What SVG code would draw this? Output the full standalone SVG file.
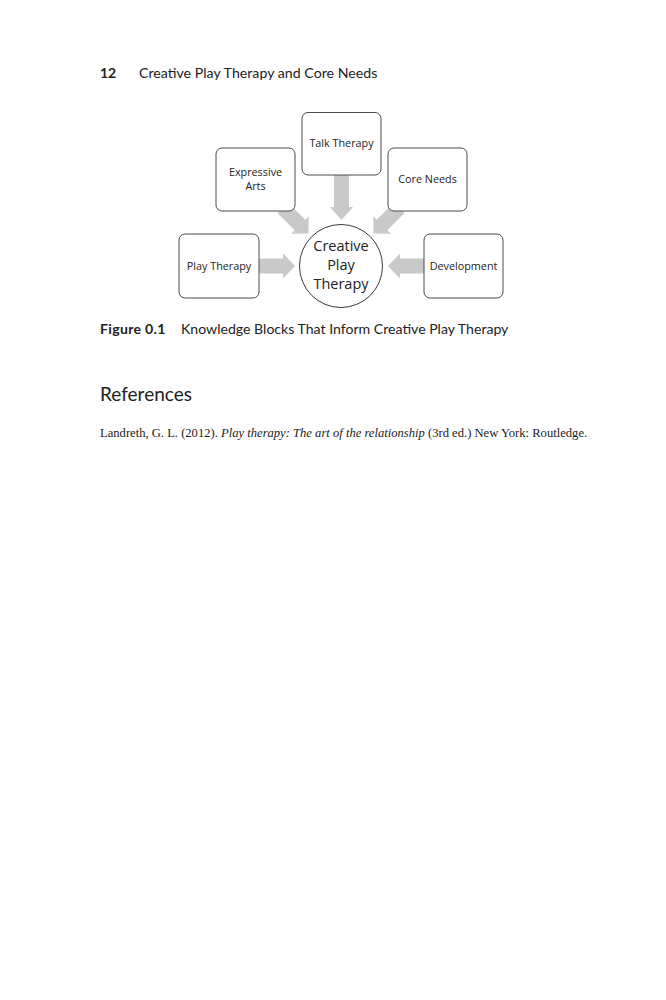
<svg xmlns="http://www.w3.org/2000/svg" width="666" height="1000" viewBox="0 0 666 1000">
<style>
.box{fill:#fff;stroke:#4a4a4a;stroke-width:1}
.arr{fill:#c9c9c9}
.bt{font-family:"Open Sans","Liberation Sans",sans-serif;font-size:10.8px;fill:#222;text-anchor:middle}
.ct{font-family:"Open Sans","Liberation Sans",sans-serif;font-size:14.5px;fill:#222;text-anchor:middle}
.hd{font-family:"Lato","Noto Sans",sans-serif;fill:#222}
.ref{font-family:"Liberation Serif",serif;font-size:12.6px;fill:#222}
</style>
<defs>
<path id="a36" d="M0,-7.5 H24 V-12.5 L36,0 L24,12.5 V7.5 H0 Z"/>
</defs>
<rect width="666" height="1000" fill="#fff"/>
<text class="hd" x="100" y="78" font-size="14" font-weight="bold">12</text>
<text class="hd" x="139" y="78" font-size="14.2">Creative Play Therapy and Core Needs</text>
<g id="connectors">
<use href="#a36" class="arr" transform="translate(259,266)"/>
<use href="#a36" class="arr" transform="translate(424,266) rotate(180)"/>
<path class="arr" d="M334,175 H349 V207 H353 L341.5,220 L330,207 H334 Z"/>
<use href="#a36" class="arr" transform="translate(283,208) rotate(45)"/>
<use href="#a36" class="arr" transform="translate(399,208) rotate(135)"/>
</g>
<g id="talk"><rect class="box" x="302" y="112.5" width="79" height="62.5" rx="6"/><text class="bt" x="341.5" y="147">Talk Therapy</text></g>
<g id="expressive"><rect class="box" x="216" y="148" width="79" height="63" rx="6"/><text class="bt" x="255.5" y="176">Expressive</text><text class="bt" x="255.5" y="190">Arts</text></g>
<g id="core"><rect class="box" x="388" y="148" width="79" height="63" rx="6"/><text class="bt" x="427.5" y="183">Core Needs</text></g>
<g id="play"><rect class="box" x="179" y="234" width="80" height="64" rx="6"/><text class="bt" x="219" y="270">Play Therapy</text></g>
<g id="development"><rect class="box" x="424" y="234" width="79" height="64" rx="6"/><text class="bt" x="463.5" y="270">Development</text></g>
<g id="center"><circle cx="341" cy="266" r="41.5" fill="#fff" stroke="#3a3a3a" stroke-width="1"/><text class="ct" x="341" y="251">Creative</text><text class="ct" x="341" y="270">Play</text><text class="ct" x="341" y="289">Therapy</text></g>
<text class="hd" x="100" y="334" font-size="14.1"><tspan font-weight="bold" letter-spacing="0.3">Figure 0.1</tspan><tspan x="181">Knowledge Blocks That Inform Creative Play Therapy</tspan></text>
<text class="hd" x="100" y="401" font-size="19">References</text>
<text class="ref" x="100" y="437">Landreth, G. L. (2012). <tspan font-style="italic">Play therapy: The art of the relationship</tspan> (3rd ed.) New York: Routledge.</text>
</svg>
